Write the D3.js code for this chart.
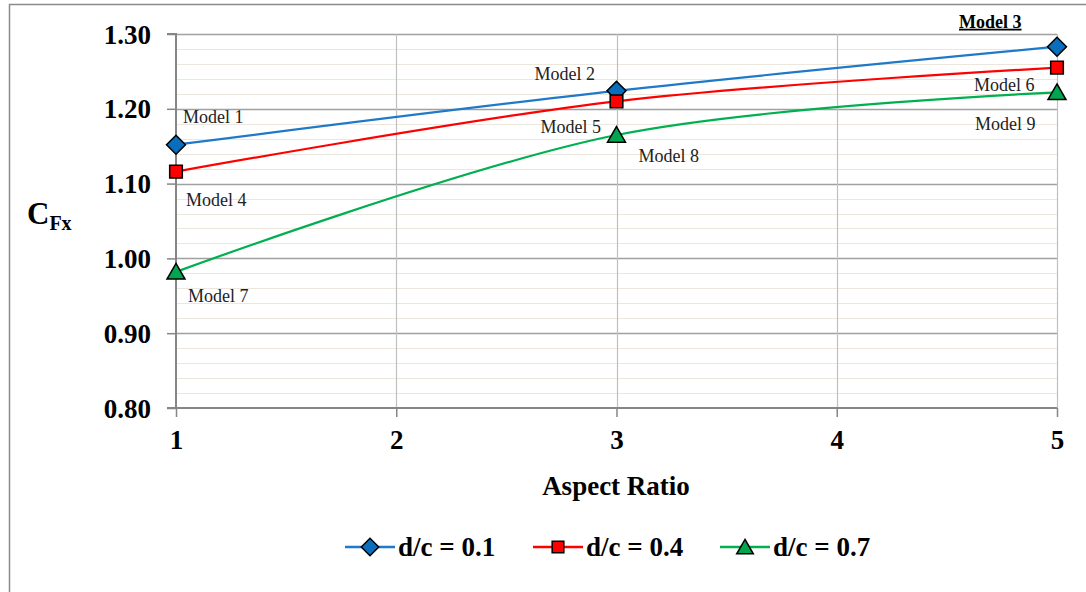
<!DOCTYPE html>
<html><head><meta charset="utf-8">
<script src="https://cdn.jsdelivr.net/npm/d3@7"></script>
<style>body{margin:0;background:#fff}svg{display:block}</style>
</head><body><svg id="c" width="1086" height="592"></svg>
<script>
const aspectRatios = [1, 3, 5];
const seriesNames = ["d/c = 0.1", "d/c = 0.4", "d/c = 0.7"];
const dc01 = [1.152, 1.224, 1.283];
const dc04 = [1.116, 1.210, 1.255];
const dc07 = [0.982, 1.165, 1.222];
const xTicks = [1, 2, 3, 4, 5];
const yTicks = [0.80, 0.90, 1.00, 1.10, 1.20, 1.30];
const pointLabels = [
  ["Model 1", "Model 2", "Model 3"],
  ["Model 4", "Model 5", "Model 6"],
  ["Model 7", "Model 8", "Model 9"]
];
const colors = ["#1f78c8", "#ff0000", "#00b050"];
const fills = ["#0a6ebd", "#ff0000", "#00a550"];
const symbols = [d3.symbolSquare, d3.symbolSquare, d3.symbolTriangle];
const symRot = [45, 0, 0];
const symSizes = [180, 160, 140];
const SERIF = "Liberation Serif";

const svg = d3.select("#c");
const x = d3.scaleLinear().domain([1, 5]).range([176, 1057]);
const y = d3.scaleLinear().domain([0.80, 1.30]).range([408, 34]);

function boldify(sel) {
  return sel.attr("font-family", SERIF).attr("font-weight", "bold").attr("fill", "#000");
}

// outer border
svg.append("path").attr("d", "M9.5,592 V4.5 H1086").attr("fill", "none").attr("stroke", "#8a8a8a").attr("stroke-width", 1.5);

// minor gridlines
const minor = d3.range(0.82, 1.30, 0.02).filter(v => Math.abs(Math.round(v * 10) - v * 10) > 0.01);
svg.append("g").selectAll("line").data(minor).join("line")
  .attr("x1", x(1)).attr("x2", x(5)).attr("y1", d => Math.round(y(d)) + 0.5).attr("y2", d => Math.round(y(d)) + 0.5)
  .attr("stroke", "#ebe7dc").attr("stroke-width", 1);
// major horizontal gridlines
svg.append("g").selectAll("line").data(yTicks.slice(1)).join("line")
  .attr("x1", x(1)).attr("x2", x(5)).attr("y1", d => Math.round(y(d)) + 0.5).attr("y2", d => Math.round(y(d)) + 0.5)
  .attr("stroke", "#a0a0a0").attr("stroke-width", 1.3);
// vertical gridlines
svg.append("g").selectAll("line").data(xTicks.slice(1)).join("line")
  .attr("x1", d => Math.round(x(d)) + 0.5).attr("x2", d => Math.round(x(d)) + 0.5).attr("y1", y(1.30)).attr("y2", y(0.80))
  .attr("stroke", "#c0c0c0").attr("stroke-width", 1.2);

// axes
const yAxis = svg.append("g").attr("transform", `translate(${x(1)},0)`)
  .call(d3.axisLeft(y).tickValues(yTicks).tickSize(9).tickFormat(d3.format(".2f")));
const xAxis = svg.append("g").attr("transform", `translate(0,${y(0.80)})`)
  .call(d3.axisBottom(x).tickValues(xTicks).tickSize(9).tickFormat(d3.format("d")));
[yAxis, xAxis].forEach(a => {
  a.attr("font-family", SERIF).attr("font-size", 27).attr("font-weight", "bold");
  a.select(".domain").attr("stroke", "#868686").attr("stroke-width", 2);
  a.selectAll(".tick line").attr("stroke", "#868686").attr("stroke-width", 1.5);
  boldify(a.selectAll("text")).attr("font-size", 27);
});
yAxis.select(".domain").attr("d", `M-9,${y(0.80)}H0V${y(1.30)}H-9`);
yAxis.selectAll(".tick text").attr("x", -25).attr("dy", "0.34em");
xAxis.select(".domain").attr("d", `M${x(1)},0H${x(5)}`);
xAxis.selectAll(".tick text").attr("y", 22).attr("dy", "0.71em");

// axis titles
boldify(svg.append("text")).attr("x", 616).attr("y", 495).attr("text-anchor", "middle")
  .attr("font-size", 27).text("Aspect Ratio");
const yl = boldify(svg.append("text")).attr("x", 27).attr("y", 224).attr("font-size", 31);
yl.append("tspan").text("C");
yl.append("tspan").attr("font-size", 20).attr("dy", 6).text("Fx");

// lines
const allSeries = [dc01, dc04, dc07];
const line = d3.line().x((d, i) => x(aspectRatios[i])).y(d => y(d)).curve(d3.curveCatmullRom.alpha(0.5));
allSeries.forEach((s, k) => {
  svg.append("path").datum(s).attr("d", line).attr("fill", "none")
    .attr("stroke", colors[k]).attr("stroke-width", 2.2);
});
allSeries.forEach((s, k) => {
  svg.append("g").selectAll("path").data(s).join("path")
    .attr("transform", (d, i) => `translate(${x(aspectRatios[i])},${y(d) + (k === 2 ? 2 : 0)}) rotate(${symRot[k]})`)
    .attr("d", d3.symbol().type(symbols[k]).size(symSizes[k]))
    .attr("fill", fills[k]).attr("stroke", "#000").attr("stroke-width", 1.5);
});

// point labels [series][point] -> offsets relative to point
const labelOffsets = [
  [[7, -22], [-82, -11], [-98, -19]],
  [[10, 34], [-76, 32], [-83, 23]],
  [[12, 30], [22, 27], [-82, 38]]
];
allSeries.forEach((s, k) => {
  s.forEach((v, i) => {
    const t = svg.append("text")
      .attr("x", x(aspectRatios[i]) + labelOffsets[k][i][0])
      .attr("y", y(v) + labelOffsets[k][i][1])
      .attr("font-family", SERIF)
      .attr("font-size", 18).attr("fill", "#222").text(pointLabels[k][i]);
    if (k === 0 && i === 2) boldify(t).attr("text-decoration", "underline");
  });
});

// legend
const legendX = [345, 533, 720];
const lg = svg.append("g");
seriesNames.forEach((n, k) => {
  const g = lg.append("g").attr("transform", `translate(${legendX[k]},547)`);
  g.append("line").attr("x1", 0).attr("x2", 50).attr("stroke", colors[k]).attr("stroke-width", 2.5);
  g.append("path").attr("transform", `translate(25,${k === 2 ? 2 : 0}) rotate(${symRot[k]})`)
    .attr("d", d3.symbol().type(symbols[k]).size(symSizes[k] * 0.85))
    .attr("fill", fills[k]).attr("stroke", "#000").attr("stroke-width", 1.5);
  boldify(g.append("text")).attr("x", 53).attr("y", 9).attr("font-size", 27).text(n);
});
</script></body></html>
